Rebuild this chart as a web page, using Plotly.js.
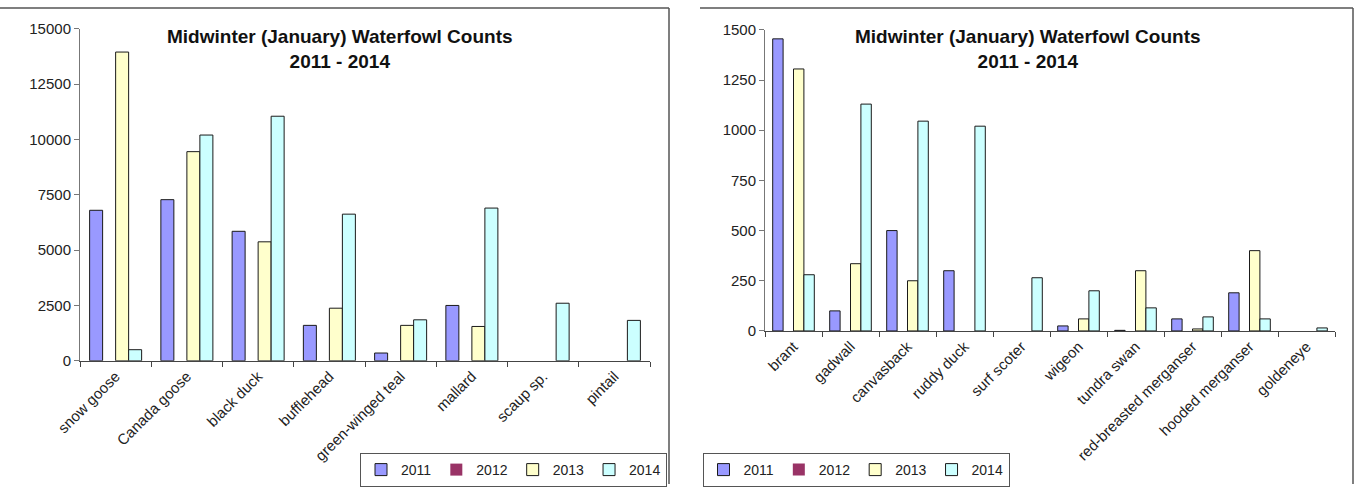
<!DOCTYPE html>
<html>
<head>
<meta charset="utf-8">
<script src="https://cdn.plot.ly/plotly-3.0.1.min.js"></script>
<style>html,body{margin:0;padding:0;background:#fff;}#chart{width:1357px;height:487px;}</style>
</head>
<body>
<div id="chart"></div>
<script>
// ---- data ----
const years = ["2011", "2012", "2013", "2014"];

const leftSpecies = ["snow goose", "Canada goose", "black duck", "bufflehead", "green-winged teal", "mallard", "scaup sp.", "pintail"];
const left2011 = [6800, 7280, 5850, 1600, 350, 2500, 0, 0];
const left2012 = [0, 0, 0, 0, 0, 0, 0, 0];
const left2013 = [13950, 9450, 5375, 2375, 1600, 1550, 0, 0];
const left2014 = [500, 10200, 11050, 6625, 1850, 6900, 2600, 1825];

const rightSpecies = ["brant", "gadwall", "canvasback", "ruddy duck", "surf scoter", "wigeon", "tundra swan", "red-breasted merganser", "hooded merganser", "goldeneye"];
const right2011 = [1455, 100, 500, 300, 0, 25, 3, 60, 190, 0];
const right2012 = [0, 0, 0, 0, 0, 0, 0, 0, 0, 0];
const right2013 = [1305, 335, 250, 0, 0, 60, 300, 10, 400, 0];
const right2014 = [280, 1130, 1045, 1020, 265, 200, 115, 70, 60, 15];

const leftTicks = [0, 2500, 5000, 7500, 10000, 12500, 15000];
const rightTicks = [0, 250, 500, 750, 1000, 1250, 1500];

const titleText = "<b>Midwinter (January) Waterfowl Counts<br>2011 - 2014</b>";

// ---- styling ----
const colors = ["#9999FF", "#993366", "#FFFFCC", "#CCFFFF"];
const W = 1357, H = 487;
const px = v => v / W;
const py = v => (H - v) / H;
const font = "Liberation Sans, Arial, sans-serif";

const leftSeries = [left2011, left2012, left2013, left2014];
const rightSeries = [right2011, right2012, right2013, right2014];

// zero-count bars have no outline (nothing drawn), as in the original
const outline = vals => vals.map(v => (v > 0 ? 1 : 0));

const traces = [];
years.forEach((yr, i) => {
  traces.push({
    type: "bar", name: yr, x: leftSpecies, y: leftSeries[i],
    xaxis: "x", yaxis: "y", legend: "legend",
    marker: {color: colors[i], line: {color: "#1a1a1a", width: outline(leftSeries[i])}},
    hoverinfo: "x+y+name"
  });
});
years.forEach((yr, i) => {
  traces.push({
    type: "bar", name: yr, x: rightSpecies, y: rightSeries[i],
    xaxis: "x2", yaxis: "y2", legend: "legend2",
    marker: {color: colors[i], line: {color: "#1a1a1a", width: outline(rightSeries[i])}},
    hoverinfo: "x+y+name"
  });
});

const xCommon = {
  type: "category", showline: true, linecolor: "#444", linewidth: 1,
  ticks: "outside", tickson: "boundaries", ticklen: 5, tickcolor: "#444",
  tickangle: -45, tickfont: {family: font, size: 15, color: "#222"},
  showgrid: false, zeroline: false, fixedrange: true
};
const yCommon = {
  showline: true, linecolor: "#777", linewidth: 1,
  ticks: "outside", ticklen: 5, tickcolor: "#777",
  tickfont: {family: font, size: 15, color: "#222"},
  tickformat: "d", showgrid: false, zeroline: false, fixedrange: true
};

const legendCommon = {
  orientation: "h", yanchor: "top",
  bordercolor: "#555", borderwidth: 1, bgcolor: "#fff",
  font: {family: font, size: 14, color: "#222"}, traceorder: "normal",
  itemwidth: 30
};

const layout = {
  width: W, height: H,
  margin: {l: 0, r: 0, t: 0, b: 0},
  paper_bgcolor: "#fff", plot_bgcolor: "#fff",
  barmode: "group", bargap: 0.27, bargroupgap: 0,
  font: {family: font},
  xaxis: Object.assign({}, xCommon, {domain: [px(80), px(650)], anchor: "y"}),
  yaxis: Object.assign({}, yCommon, {domain: [py(363), py(29)], range: [0, 15000], tickvals: leftTicks, anchor: "x"}),
  xaxis2: Object.assign({}, xCommon, {domain: [px(765), px(1335)], anchor: "y2"}),
  yaxis2: Object.assign({}, yCommon, {domain: [py(333), py(30)], range: [0, 1500], tickvals: rightTicks, anchor: "x2"}),
  legend: Object.assign({}, legendCommon, {x: px(667), xanchor: "right", y: py(456)}),
  legend2: Object.assign({}, legendCommon, {x: px(856), xanchor: "center", y: py(456)}),
  annotations: [
    {text: titleText, xref: "paper", yref: "paper", x: px(340), y: py(24), xanchor: "center", yanchor: "top",
     showarrow: false, font: {family: font, size: 19, color: "#111"}},
    {text: titleText, xref: "paper", yref: "paper", x: px(1028), y: py(24), xanchor: "center", yanchor: "top",
     showarrow: false, font: {family: font, size: 19, color: "#111"}}
  ],
  shapes: [
    {type: "line", xref: "paper", yref: "paper", x0: 0, x1: px(669), y0: py(8), y1: py(8), line: {color: "#555", width: 1.5}},
    {type: "line", xref: "paper", yref: "paper", x0: px(669), x1: px(669), y0: py(8), y1: 0, line: {color: "#555", width: 1.5}},
    {type: "line", xref: "paper", yref: "paper", x0: px(700), x1: px(1353), y0: py(8), y1: py(8), line: {color: "#555", width: 1.5}},
    {type: "line", xref: "paper", yref: "paper", x0: px(1353), x1: px(1353), y0: py(8), y1: 0, line: {color: "#555", width: 1.5}}
  ]
};

Plotly.newPlot("chart", traces, layout, {displayModeBar: false, staticPlot: true});
</script>
</body>
</html>
